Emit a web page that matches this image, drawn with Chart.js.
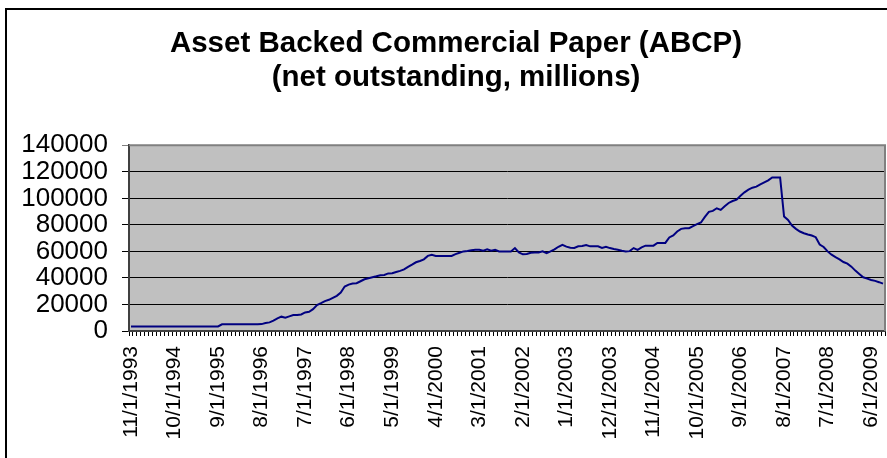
<!DOCTYPE html>
<html>
<head>
<meta charset="utf-8">
<script src="https://cdn.jsdelivr.net/npm/chart.js@4.4.0/dist/chart.umd.min.js"></script>
<style>
  html, body { margin: 0; padding: 0; background: #fff; }
  #wrap { width: 887px; height: 458px; position: relative; }
</style>
</head>
<body>
<div id="wrap"><canvas id="abcpChart"></canvas></div>
<script>
// monthly ABCP outstanding, starting 11/1993
const startYear = 1993;
const startMonth = 11;
const abcpValues = [
  3400, 3400, 3400, 3400, 3400, 3400, 3400, 3400, 3400, 3400, 3400, 3400,
  3400, 3400, 3400, 3400, 3400, 3400, 3400, 3400, 3400, 3400, 3400, 5000,
  5000, 5000, 5000, 5000, 5000, 5000, 5000, 5000, 5100, 5200, 6000, 6500,
  7800, 9500, 10800, 10000, 11000, 12000, 12000, 12500, 14000, 14500, 16500, 19600,
  21000, 22500, 23500, 25000, 26500, 29000, 33500, 35000, 35800, 36000, 37500, 39000,
  39800, 40500, 41200, 42000, 42200, 43400, 43500, 44500, 45300, 46400, 48300, 50000,
  51800, 52800, 54000, 56600, 57400, 56600, 56500, 56500, 56500, 56600, 57900, 59000,
  60000, 60300, 60800, 61200, 61200, 60500, 61500, 60500, 61200, 60000, 60000, 60000,
  60000, 62500, 59200, 57800, 58000, 59000, 59200, 59200, 60000, 58700, 60000, 61500,
  63500, 65000, 63600, 62800, 62600, 63800, 64000, 64800, 63800, 63800, 63800, 62600,
  63500, 62500, 61800, 61200, 60500, 60000, 60200, 62500, 61200, 63000, 64300, 64300,
  64300, 66400, 66400, 66400, 70500, 72000, 75000, 77000, 77500, 77500, 79000, 80500,
  81800, 86000, 89800, 90500, 92500, 91300, 94000, 96500, 98000, 99000, 102000, 104500,
  106500, 108000, 108800, 110500, 112000, 113500, 115700, 115700, 115700, 86300, 83700, 79500,
  77000, 75000, 73700, 72800, 72000, 70700, 65200, 63300, 60000, 57500, 55700, 54000,
  52000, 50800, 48500, 45500, 43000, 40500, 39500, 38500, 37800, 36800, 35700
];
const titleLines = ['Asset Backed Commercial Paper (ABCP)', '(net outstanding, millions)'];
const yTicks = [0, 20000, 40000, 60000, 80000, 100000, 120000, 140000];
const labelEvery = 11;

const months = [];
for (let i = 0; i < abcpValues.length; i++) {
  const m = (startMonth - 1 + i) % 12 + 1;
  const y = startYear + Math.floor((startMonth - 1 + i) / 12);
  months.push(m + '/1/' + y);
}

// grey plot area + chart frame, Excel style
const plotBg = {
  id: 'plotBg',
  beforeDraw(chart) {
    const { ctx, chartArea: a } = chart;
    ctx.save();
    ctx.fillStyle = '#fff';
    ctx.fillRect(0, 0, chart.width, chart.height);
    ctx.strokeStyle = '#000';
    ctx.lineWidth = 2;
    ctx.strokeRect(6, 9, chart.width + 20, chart.height + 20);
    ctx.fillStyle = '#c0c0c0';
    ctx.fillRect(a.left, a.top, a.right - a.left, a.bottom - a.top);
    ctx.restore();
  },
  afterDatasetsDraw(chart) {
    const { ctx, chartArea: a } = chart;
    ctx.save();
    ctx.strokeStyle = '#808080';
    ctx.lineWidth = 2;
    ctx.beginPath();
    ctx.moveTo(a.left, a.top);
    ctx.lineTo(a.right, a.top);
    ctx.lineTo(a.right, a.bottom);
    ctx.stroke();
    ctx.restore();
  }
};

new Chart(document.getElementById('abcpChart'), {
  type: 'line',
  data: {
    labels: months,
    datasets: [{
      data: abcpValues,
      borderColor: '#000080',
      borderWidth: 2,
      pointRadius: 0,
      tension: 0,
      fill: false
    }]
  },
  options: {
    responsive: true,
    maintainAspectRatio: false,
    animation: false,
    layout: { padding: { left: 27, right: 2, top: 0, bottom: 0 } },
    plugins: {
      legend: { display: false },
      tooltip: { enabled: false },
      title: {
        display: true,
        text: titleLines,
        color: '#000',
        font: { family: "'Liberation Sans', Arial, sans-serif", size: 29.5, weight: 'bold', lineHeight: 1.14 },
        padding: { top: 27, bottom: 51 }
      }
    },
    scales: {
      x: {
        offset: true,
        grid: { display: true, drawOnChartArea: false, drawTicks: true, tickLength: 5, color: '#000', offset: true },
        border: { display: true, color: '#404040', width: 2 },
        ticks: {
          autoSkip: false,
          maxRotation: 90,
          minRotation: 90,
          padding: 10,
          color: '#000',
          font: { family: "'Liberation Sans', Arial, sans-serif", size: 21 },
          callback: (v, i) => (i % labelEvery === 0 ? months[i] : '')
        },
        afterFit(scale) {
          scale.height = 127;
          scale.paddingLeft = 0;
          scale.paddingRight = 0;
        }
      },
      y: {
        min: 0,
        max: 140000,
        afterBuildTicks(scale) { scale.ticks = yTicks.map(v => ({ value: v })); },
        grid: {
          color: ctx => (ctx.tick && ctx.tick.value === 140000 ? '#808080' : '#000'),
          lineWidth: 1,
          drawTicks: true,
          tickLength: 7
        },
        border: { display: true, color: '#404040', width: 2 },
        ticks: {
          autoSkip: false,
          padding: 14,
          color: '#000',
          font: { family: "'Liberation Sans', Arial, sans-serif", size: 26 },
          callback: v => String(v)
        },
        afterFit(scale) {
          scale.width = 102;
          // labels are wider than the narrow axis box; don't clip them
          scale._computeLabelArea = () => null;
        }
      }
    }
  },
  plugins: [plotBg]
});
</script>
</body>
</html>
